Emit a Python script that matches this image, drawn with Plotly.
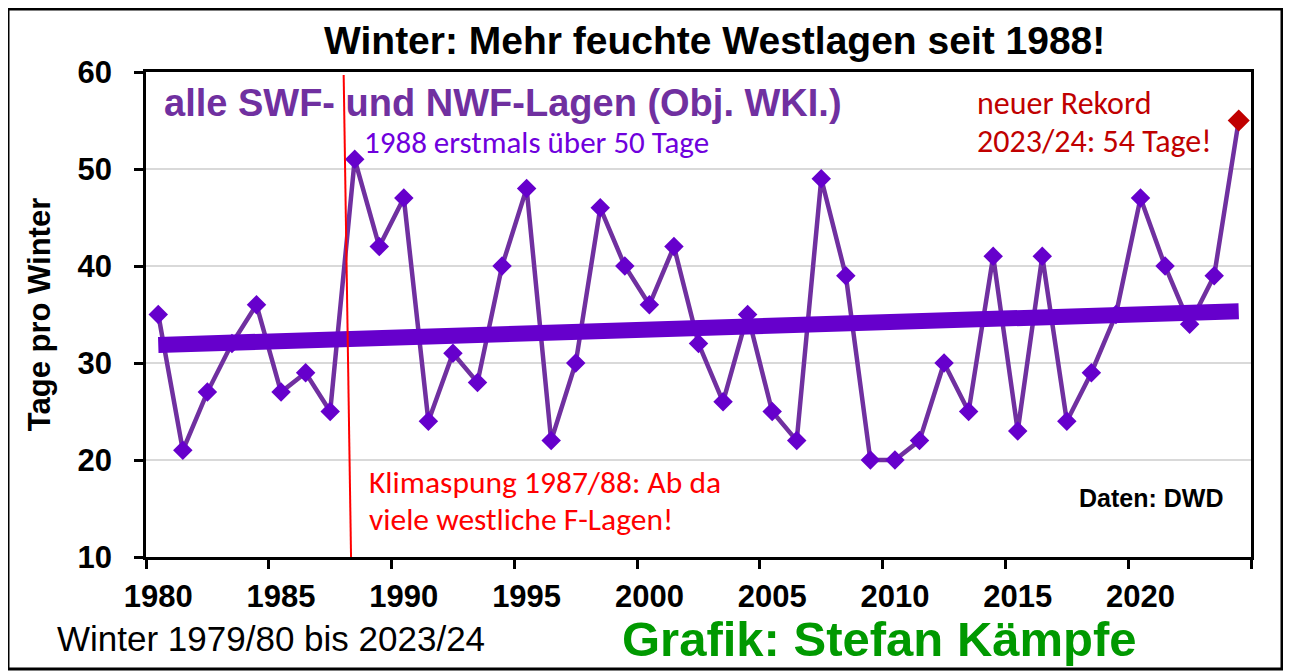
import numpy as np
import plotly.graph_objects as go

# ---- data ----
winters = list(range(1980, 2025))  # winter 1979/80 plotted as 1980
days = [35, 21, 27, 32, 36, 27, 29, 25,
        51, 42, 47, 24, 31, 28, 40, 48, 22, 30,
        46, 40, 36, 42, 32, 26, 35, 25, 22, 49,
        39, 20, 20, 22, 30, 25, 41, 23, 41, 24,
        29, 35, 47, 40, 34, 39, 55]
tick_years = [1980, 1985, 1990, 1995, 2000, 2005, 2010, 2015, 2020]
tick_labels = [str(y) for y in tick_years]
y_ticks = [10, 20, 30, 40, 50, 60]
klimasprung_x = [1987.55, 1987.85]
klimasprung_y = [59.7, 10]

# linear trend computed from the data
coef = np.polyfit(winters, days, 1)
trend = np.polyval(coef, winters)

OFF = 8  # page body margin
W, H = 1291 - OFF, 672 - OFF
L, R, T, B = 146 - OFF, 1251 - OFF, 72 - OFF, 557 - OFF


def px(x):  # page pixel -> paper fraction
    return (x - OFF - L) / (R - L)


def py(y):
    return (B - (y - OFF)) / (B - T)


ARIAL = "Arial, Liberation Sans, sans-serif"
CAL = "Carlito, Calibri, Lato, sans-serif"

fig = go.Figure()
fig.add_trace(go.Scatter(
    x=winters, y=days, mode="lines+markers",
    line=dict(color="#7030A0", width=4.5),
    marker=dict(symbol="diamond", size=15, color="#6600CC"),
    hoverinfo="x+y", showlegend=False))
fig.add_trace(go.Scatter(
    x=winters, y=trend, mode="lines",
    line=dict(color="#6600CC", width=16),
    hoverinfo="skip", showlegend=False))
fig.add_trace(go.Scatter(
    x=[winters[-1]], y=[days[-1]], mode="markers",
    marker=dict(symbol="diamond", size=17, color="#C00000"),
    showlegend=False))

fig.add_shape(type="line", xref="x", yref="y",
              x0=klimasprung_x[0], y0=klimasprung_y[0],
              x1=klimasprung_x[1], y1=klimasprung_y[1],
              line=dict(color="#FF0000", width=2), layer="above")

# outer frame
fig.add_shape(type="rect", xref="paper", yref="paper",
              x0=px(8), y0=py(669), x1=px(1282), y1=py(9),
              line=dict(color="black", width=3), layer="below")


def ann(text, x, y, size, color, family=ARIAL, bold=False, xanchor="left"):
    fig.add_annotation(text=text, x=px(x), y=py(y), xref="paper", yref="paper",
                       xanchor=xanchor, yanchor="middle", showarrow=False,
                       borderpad=0,
                       font=dict(size=size, color=color, family=family,
                                 weight="bold" if bold else "normal"))


ann("Winter: Mehr feuchte Westlagen seit 1988!", 715, 40, 39, "black", bold=True, xanchor="center")
ann("alle SWF- und NWF-Lagen (Obj. WKI.)", 163, 103, 38, "#7030A0", bold=True)
ann("1988 erstmals über 50 Tage", 363, 142, 31, "#6F00DD", family=CAL)
ann("neuer Rekord", 976, 103, 32, "#C00000", family=CAL)
ann("2023/24: 54 Tage!", 976, 141, 32, "#C00000", family=CAL)
ann("Klimaspung 1987/88: Ab da", 368, 482, 31.5, "#FF0000", family=CAL)
ann("viele westliche F-Lagen!", 368, 519, 31.5, "#FF0000", family=CAL)
ann("Daten: DWD", 1078, 498, 25, "black", bold=True)
ann("Winter 1979/80 bis 2023/24", 56, 638, 35, "black")
ann("Grafik: Stefan Kämpfe", 621, 639, 49, "#009900", bold=True)

fig.update_layout(
    width=W, height=H,
    margin=dict(l=L, r=W - R, t=T, b=H - B),
    paper_bgcolor="white", plot_bgcolor="white",
    showlegend=False,
    xaxis=dict(
        range=[1979.5, 2024.5], tickvals=tick_years, ticktext=tick_labels,
        ticks="", showgrid=False, zeroline=False,
        showline=True, linecolor="black", linewidth=2.5, mirror=True,
        tickfont=dict(family=ARIAL, size=31, color="black", weight="bold"),
        ticklabelstandoff=10,
        minor=dict(tickvals=[1979.5 + 5 * k for k in range(10)],
                   ticks="outside", ticklen=9, tickwidth=2.5, tickcolor="black",
                   showgrid=False),
    ),
    yaxis=dict(
        range=[10, 60], tickvals=y_ticks,
        ticks="outside", ticklen=9, tickwidth=2.5, tickcolor="black",
        showgrid=True, gridcolor="#D9D9D9", gridwidth=1.5, zeroline=False,
        showline=True, linecolor="black", linewidth=2.5, mirror=True,
        tickfont=dict(family=ARIAL, size=31, color="black", weight="bold"),
        ticklabelstandoff=16,
        title=dict(text="Tage pro Winter", standoff=18,
                   font=dict(family=ARIAL, size=31, color="black", weight="bold")),
    ),
)

fig.write_html("out.html")
